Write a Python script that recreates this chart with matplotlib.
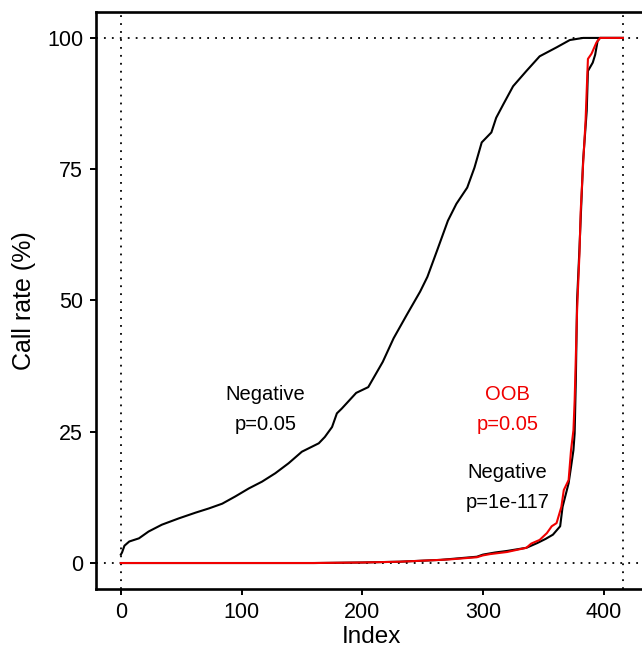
import matplotlib
matplotlib.use("Agg")
import matplotlib.pyplot as plt

# values (index, call rate %)
NEG_005_X = [0, 1, 3, 7, 15, 23, 34, 48, 62, 73, 84, 95, 106, 117, 128, 139, 150, 164, 169, 175,
             179, 183, 195, 205, 217, 226, 237, 248, 254, 262, 271, 278, 287, 293, 299, 307, 311, 317, 325, 336,
             347, 361, 372, 383, 397, 416]
NEG_005_Y = [1.6, 2.0, 3.3, 4.1, 4.7, 6.0, 7.3, 8.5, 9.6, 10.4, 11.3, 12.7, 14.2, 15.5, 17.1, 19.0, 21.2, 22.8, 24.0, 25.9,
             28.5, 29.4, 32.4, 33.5, 38.3, 42.8, 47.3, 51.7, 54.5, 59.5, 65.2, 68.4, 71.5, 75.3, 80.1, 82.0, 84.8, 87.4, 90.8, 93.7,
             96.5, 98.2, 99.6, 100, 100, 100]

NEG_117_X = [0, 160, 200, 231, 265, 295, 300, 310, 320, 336, 345, 352, 358, 364, 366, 371, 373, 375, 376, 377,
             378, 380, 383, 386, 387, 391, 393, 395, 397, 416]
NEG_117_Y = [0, 0, 0.1, 0.25, 0.6, 1.2, 1.6, 2.0, 2.3, 2.9, 3.8, 4.6, 5.4, 7.0, 10.7, 15.2, 18.3, 21.5, 24.7, 35,
             50, 60, 76.6, 86.1, 93.7, 95.3, 96.8, 99.4, 100, 100]

OOB_X = [0, 160, 200, 231, 265, 273, 295, 300, 306, 320, 336, 340, 347, 353, 357, 361, 365, 367, 371, 373,
         375, 376, 378, 380, 381, 383, 385, 387, 390, 394, 397, 416]
OOB_Y = [0, 0, 0.1, 0.25, 0.6, 0.7, 1.1, 1.45, 1.7, 2.1, 2.9, 3.7, 4.4, 5.7, 7.0, 7.6, 10.7, 13.9, 15.8, 21.5,
         25.3, 31, 48, 59, 67, 76, 84, 96, 97, 99.1, 100, 100]

N_TOTAL = 416
X_TICKS = [0, 100, 200, 300, 400]
Y_TICKS = [0, 25, 50, 75, 100]

RED = "#F00000"

plt.rcParams["font.family"] = ["Liberation Sans", "DejaVu Sans"]

fig = plt.figure(figsize=(6.42, 6.52), dpi=100)
ax = fig.add_axes([0.1491, 0.0962, 0.8603, 0.8859])

dot = (0, (1, 3.4))
for v in (0, N_TOTAL):
    ax.axvline(v, color="black", lw=1.3, linestyle=dot, zorder=1)
for v in (0, 100):
    ax.axhline(v, color="black", lw=1.3, linestyle=dot, zorder=1)

ax.plot(NEG_005_X, NEG_005_Y, color="black", lw=1.5, zorder=3)
ax.plot(NEG_117_X, NEG_117_Y, color="black", lw=1.5, zorder=3)
ax.plot(OOB_X, OOB_Y, color=RED, lw=1.5, zorder=4)

txt = dict(ha="center", va="baseline", fontsize=14.5)
ax.text(120, 31.1, "Negative", color="black", **txt)
ax.text(120, 25.4, "p=0.05", color="black", **txt)
ax.text(320.5, 31.1, "OOB", color=RED, **txt)
ax.text(320.5, 25.4, "p=0.05", color=RED, **txt)
ax.text(320.5, 16.2, "Negative", color="black", **txt)
ax.text(320.5, 10.5, "p=1e-117", color="black", **txt)

ax.set_xlim(-20.8, 436.8)
ax.set_ylim(-5, 105)
ax.set_xticks(X_TICKS)
ax.set_yticks(Y_TICKS)
ax.tick_params(direction="out", length=4.6, width=1.4, labelsize=15.5, pad=4.5, colors="black")

for s in ax.spines.values():
    s.set_linewidth(1.9)

ax.set_xlabel("Index", fontsize=17.5, labelpad=2.5)
ax.set_ylabel("Call rate (%)", fontsize=18, labelpad=8)

fig.savefig("out.png", dpi=100)
